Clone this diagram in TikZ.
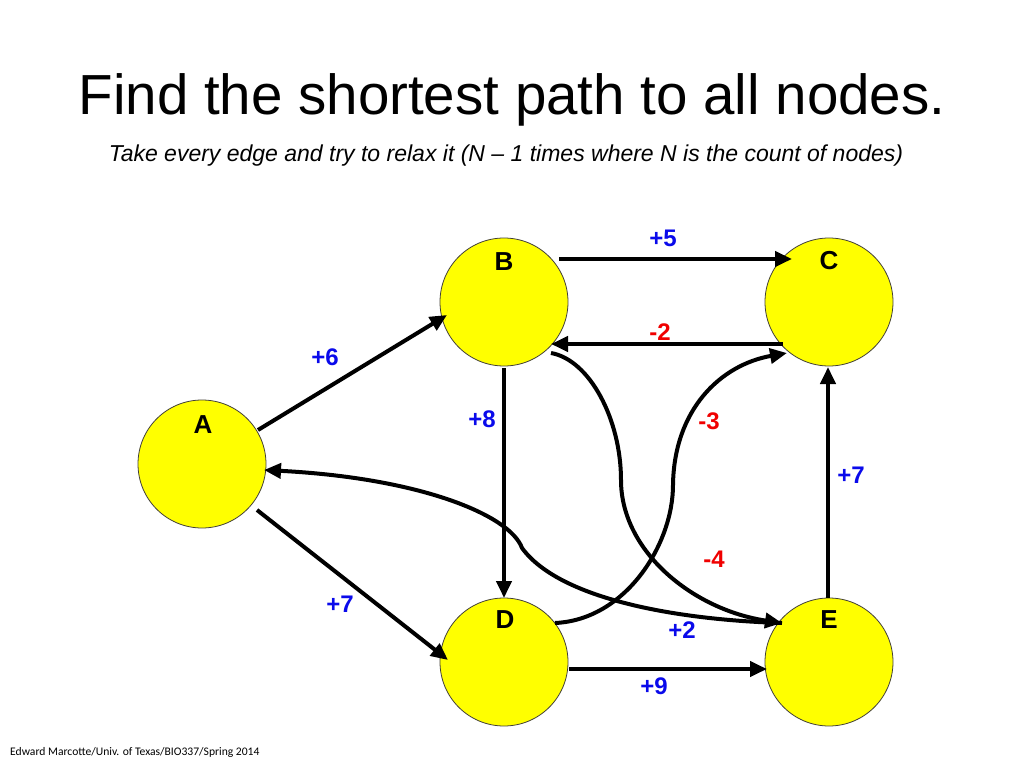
\documentclass[tikz,border=0pt]{standalone}
\usepackage{fontspec}
\setmainfont{Liberation Sans}
\newfontfamily\footfont{Carlito}
\usetikzlibrary{arrows.meta,calc}
\definecolor{nodeyellow}{RGB}{255,255,0}
\definecolor{lblue}{RGB}{10,10,235}
\definecolor{lred}{RGB}{240,0,0}
\tikzset{
  vertex/.style={circle,draw=black!85!yellow,line width=0.8pt,fill=nodeyellow,minimum size=128pt,inner sep=0pt},
  vlabel/.style={font=\fontsize{26pt}{28pt}\selectfont\bfseries},
  edge/.style={line width=4pt,-{Triangle[length=17pt,width=15pt]}},
  poslabel/.style={font=\fontsize{24pt}{26pt}\selectfont\bfseries,text=lblue},
  neglabel/.style={font=\fontsize{24pt}{26pt}\selectfont\bfseries,text=lred},
}
\begin{document}
\begin{tikzpicture}[x=1pt,y=-1pt]
\useasboundingbox (0,0) rectangle (1023,767);
\fill[white] (0,0) rectangle (1023,767);

\node[font=\fontsize{56.5pt}{60pt}\selectfont,anchor=base] (title) at (512,115) {Find the shortest path to all nodes.};
\node[font=\fontsize{23pt}{25pt}\selectfont\itshape,anchor=base] (sub) at (506,162) {Take every edge and try to relax it (N – 1 times where N is the count of nodes)};
\node[font=\footfont\fontsize{11.6pt}{13pt}\selectfont,anchor=base west,inner sep=0pt] (foot) at (10,755) {Edward Marcotte/Univ. of Texas/BIO337/Spring 2014};

\node[vertex] (A) at (202,464) {};
\node[vertex] (B) at (504,302) {};
\node[vertex] (C) at (829,302) {};
\node[vertex] (D) at (504,662) {};
\node[vertex] (E) at (829,662) {};

\node[vlabel] (lA) at (203,425) {A};
\node[vlabel] (lB) at (504,262) {B};
\node[vlabel] (lC) at (829,261) {C};
\node[vlabel] (lD) at (505,620) {D};
\node[vlabel] (lE) at (829,620) {E};

% straight edges
\draw[edge] ($(A)+(56,-34)$) -- ($(B)+(-57,13)$);
\draw[edge] ($(A)+(55,46)$) -- ($(D)+(-56,-2)$);
\draw[edge] ($(B)+(55,-43)$) -- ($(C)+(-37,-43)$);
\draw[edge] ($(C)+(-46,42)$) -- ($(B)+(47,42)$);
\draw[edge] ($(B)+(0,66)$) -- ($(D)+(0,-64)$);
\draw[edge] ($(E)+(-1,-64)$) -- ($(C)+(-1,65)$);
\draw[edge] ($(D)+(65,7)$) -- ($(E)+(-62,7)$);

% curved edges
\draw[edge] ($(B)+(47,51)$) .. controls ($(B)+(86,58)$) and ($(B)+(117,118)$) .. ($(B)+(117,178)$)
  .. controls ($(B)+(117,250)$) and ($(B)+(190,308)$) .. ($(E)+(-47,-39)$);
\draw[edge] ($(D)+(51,-39)$) .. controls ($(D)+(121,-42)$) and ($(D)+(169,-117)$) .. ($(D)+(169,-177)$)
  .. controls ($(D)+(170,-252)$) and ($(D)+(216,-297)$) .. ($(C)+(-42,51)$);
\draw[edge] ($(E)+(-47,-39)$) .. controls ($(E)+(-149,-42)$) and ($(E)+(-269,-62)$) .. ($(E)+(-307,-114)$)
  .. controls ($(E)+(-319,-147)$) and ($(E)+(-409,-184)$) .. ($(A)+(62,6)$);

% labels
\node[poslabel] (w6) at (325,357) {+6};
\node[poslabel] (w8) at (482,419) {+8};
\node[poslabel] (w5) at (663,238) {+5};
\node[neglabel] (wm2) at (660,332) {-2};
\node[neglabel] (wm3) at (709,421) {-3};
\node[poslabel] (w7r) at (851,475) {+7};
\node[neglabel] (wm4) at (714,559) {-4};
\node[poslabel] (w7l) at (340,604) {+7};
\node[poslabel] (w2) at (682,630) {+2};
\node[poslabel] (w9) at (654,686) {+9};
\end{tikzpicture}
\end{document}
